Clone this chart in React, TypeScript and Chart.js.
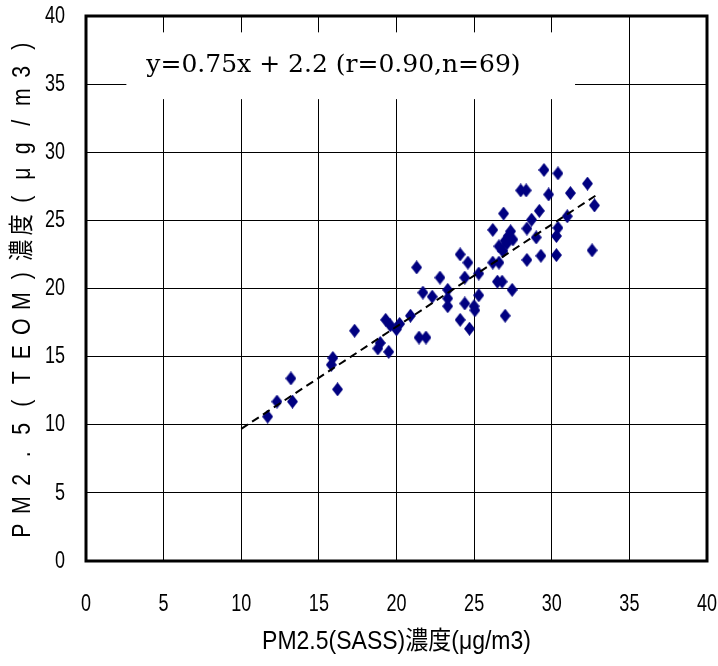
import React, { useEffect, useRef } from "react";
import { Chart, registerables } from "chart.js";

Chart.register(...registerables);

// PM2.5 SASS (x) vs TEOM (y) concentrations, μg/m3
const sassX = [
  11.7, 12.3, 13.2, 13.3, 15.9, 15.8, 16.2, 17.3, 18.8, 18.95,
  19.3, 19.6, 19.5, 20.0, 20.2, 20.9, 21.3, 21.45, 21.9, 21.7,
  22.3, 22.8, 23.3, 23.3, 23.3, 24.1, 24.6, 24.4, 24.4, 24.1,
  24.7, 25.0, 25.05, 25.3, 25.3, 26.2, 26.6, 26.5, 26.8, 27.0,
  27.45, 28.4, 29.3, 30.3, 32.6, 26.9, 26.2, 26.6, 26.85, 27.0,
  27.2, 27.5, 27.35, 27.1, 28.4, 28.7, 29.0, 29.2, 29.8, 29.5,
  30.4, 28.0, 28.35, 31.2, 32.3, 32.75, 31.0, 30.4, 30.3,
];
const teomY = [
  10.6, 11.7, 13.4, 11.7, 14.9, 14.4, 12.6, 16.9, 15.6, 16.0,
  17.7, 17.3, 15.35, 17.0, 17.4, 18.0, 21.55, 16.4, 16.4, 19.7,
  19.4, 20.8, 19.9, 19.27, 18.7, 22.5, 21.9, 20.8, 18.9, 17.7,
  17.05, 18.7, 18.4, 21.1, 19.5, 21.9, 21.9, 20.5, 20.5, 18.0,
  19.9, 22.1, 22.4, 22.45, 22.8, 25.5, 24.3, 23.1, 22.75, 23.5,
  23.85, 23.6, 24.2, 23.3, 24.4, 25.05, 23.75, 25.7, 26.9, 28.7,
  28.45, 27.2, 27.2, 27.0, 27.7, 26.1, 25.3, 24.45, 23.85,
];

// regression line y = 0.75x + 2.2 endpoints
const fitX = [10, 33];
const fitY = [9.7, 26.95];

const xTickValues = [0, 5, 10, 15, 20, 25, 30, 35, 40];
const yTickValues = [0, 5, 10, 15, 20, 25, 30, 35, 40];

const annotationText = "y=0.75x + 2.2 (r=0.90,n=69)";
const xTitle = "PM2.5(SASS)濃度(μg/m3)";
const yTitle = "PM2.5(TEOM)濃度(μg/m3)";

// annotation box extent in data units
const boxXRange = [2.6, 31.5];
const boxYRange = [38.8, 33.9];

const LABEL_FONT = "'Liberation Sans', Arial, 'Noto Sans CJK JP', sans-serif";

function makeDiamond(): HTMLCanvasElement {
  const c = document.createElement("canvas");
  c.width = 11;
  c.height = 14;
  const g = c.getContext("2d")!;
  g.fillStyle = "#000080";
  g.beginPath();
  g.moveTo(5.5, 0);
  g.lineTo(11, 7);
  g.lineTo(5.5, 14);
  g.lineTo(0, 7);
  g.closePath();
  g.fill();
  return c;
}

function narrowText(
  ctx: CanvasRenderingContext2D,
  text: string,
  x: number,
  y: number,
  sx: number,
  align: CanvasTextAlign
) {
  ctx.save();
  ctx.translate(x, y);
  ctx.scale(sx, 1);
  ctx.textAlign = align;
  ctx.textBaseline = "middle";
  ctx.fillText(text, 0, 0);
  ctx.restore();
}

const framePlugin = {
  id: "frame",
  beforeDatasetsDraw(chart: any) {
    const { ctx, scales } = chart;
    const x0 = scales.x.getPixelForValue(boxXRange[0]);
    const x1 = scales.x.getPixelForValue(boxXRange[1]);
    const y0 = scales.y.getPixelForValue(boxYRange[0]);
    const y1 = scales.y.getPixelForValue(boxYRange[1]);
    ctx.save();
    ctx.fillStyle = "#ffffff";
    ctx.fillRect(x0, y0, x1 - x0, y1 - y0);
    ctx.fillStyle = "#000";
    ctx.font = "25px 'DejaVu Serif', 'Liberation Serif', serif";
    ctx.textBaseline = "middle";
    ctx.textAlign = "left";
    ctx.fillText(annotationText, x0 + 20, (y0 + y1) / 2);
    ctx.restore();
  },
  afterDatasetsDraw(chart: any) {
    const { ctx, chartArea, scales } = chart;
    ctx.save();
    ctx.strokeStyle = "#000";
    ctx.lineWidth = 3;
    ctx.strokeRect(
      chartArea.left,
      chartArea.top,
      chartArea.right - chartArea.left,
      chartArea.bottom - chartArea.top
    );

    // tick labels (narrow gothic style)
    ctx.fillStyle = "#000";
    ctx.font = "24px " + LABEL_FONT;
    yTickValues.forEach((v) => {
      narrowText(ctx, String(v), chartArea.left - 21, scales.y.getPixelForValue(v), 0.75, "right");
    });
    xTickValues.forEach((v) => {
      narrowText(ctx, String(v), scales.x.getPixelForValue(v), chartArea.bottom + 43, 0.75, "center");
    });

    // x axis title
    ctx.font = "25px " + LABEL_FONT;
    narrowText(ctx, xTitle, (chartArea.left + chartArea.right) / 2, chartArea.bottom + 81, 0.92, "center");

    // y axis title, one character per cell, reading bottom to top
    const chars = Array.from(yTitle);
    const cell = 25.5;
    const cy = (chartArea.top + chartArea.bottom) / 2;
    ctx.translate(23, cy);
    ctx.rotate(-Math.PI / 2);
    ctx.font = "25px " + LABEL_FONT;
    ctx.textAlign = "center";
    ctx.textBaseline = "middle";
    chars.forEach((ch, i) => {
      const pos = (i - (chars.length - 1) / 2) * cell;
      ctx.save();
      ctx.translate(pos, 0);
      ctx.scale(0.85, 1);
      ctx.fillText(ch, 0, 0);
      ctx.restore();
    });
    ctx.restore();
  },
};

export default function App() {
  const ref = useRef<HTMLCanvasElement>(null);

  useEffect(() => {
    document.body.style.margin = "0";
    const canvas = ref.current!;
    const diamond = makeDiamond();
    const chart = new Chart(canvas, {
      type: "scatter",
      data: {
        datasets: [
          {
            type: "line",
            data: fitX.map((x, i) => ({ x, y: fitY[i] })),
            borderColor: "#000",
            borderWidth: 2,
            borderDash: [8, 5],
            pointRadius: 0,
            fill: false,
          },
          {
            type: "scatter",
            data: sassX.map((x, i) => ({ x, y: teomY[i] })),
            pointStyle: diamond as any,
            pointRadius: 6,
            backgroundColor: "#000080",
            borderColor: "#000080",
          },
        ],
      },
      options: {
        responsive: false,
        animation: false,
        devicePixelRatio: 1,
        layout: { padding: { left: 0, right: 11, top: 16, bottom: 0 } },
        plugins: {
          legend: { display: false },
          tooltip: { enabled: false },
        },
        scales: {
          x: {
            type: "linear",
            min: 0,
            max: 40,
            afterBuildTicks: (s: any) => {
              s.ticks = xTickValues.map((v) => ({ value: v }));
            },
            afterFit: (s: any) => {
              s.height = 105;
              s.paddingLeft = 0;
              s.paddingRight = 0;
            },
            grid: { color: "#000", lineWidth: 1, drawTicks: false },
            border: { display: false },
            ticks: { display: false },
            title: { display: false },
          },
          y: {
            type: "linear",
            min: 0,
            max: 40,
            afterBuildTicks: (s: any) => {
              s.ticks = yTickValues.map((v) => ({ value: v }));
            },
            afterFit: (s: any) => {
              s.width = 86;
              s.paddingTop = 0;
              s.paddingBottom = 0;
            },
            grid: { color: "#000", lineWidth: 1, drawTicks: false },
            border: { display: false },
            ticks: { display: false },
            title: { display: false },
          },
        },
      },
      plugins: [framePlugin],
    });
    return () => chart.destroy();
  }, []);

  return (
    <div style={{ width: 718, height: 666 }}>
      <canvas ref={ref} width={718} height={666} />
    </div>
  );
}
